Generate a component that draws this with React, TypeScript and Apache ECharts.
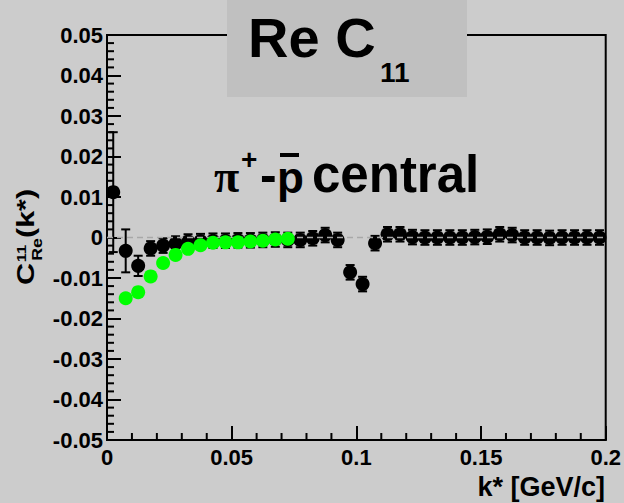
import React, { useEffect, useRef } from "react";
import * as echarts from "echarts";

const kBlack = [
  0.0025, 0.0075, 0.0125, 0.0175, 0.0225, 0.0275, 0.0325, 0.0375, 0.0425, 0.0475,
  0.0525, 0.0575, 0.0625, 0.0675, 0.0725, 0.0775, 0.0825, 0.0875, 0.0925, 0.0975,
  0.1025, 0.1075, 0.1125, 0.1175, 0.1225, 0.1275, 0.1325, 0.1375, 0.1425, 0.1475,
  0.1525, 0.1575, 0.1625, 0.1675, 0.1725, 0.1775, 0.1825, 0.1875, 0.1925, 0.1975,
];
const cBlack = [
  0.0112, -0.0033, -0.007, -0.0027, -0.002, -0.0015, -0.001, -0.0009, -0.0008, -0.0008,
  -0.0007, -0.0007, -0.0006, -0.0005, -0.0006, -0.0006, -0.0002, 0.0006, -0.0006, -0.0086,
  -0.0115, -0.0014, 0.0008, 0.0008, 0.0001, 0.0, 0.0, 0.0, 0.0, 0.0001,
  0.0002, 0.0008, 0.0006, 0.0, 0.0, -0.0001, 0.0, 0.0, 0.0, 0.0,
];
const eBlack = [
  0.0148, 0.0053, 0.0025, 0.0018, 0.0018, 0.0018, 0.0018, 0.0018, 0.0018, 0.0018,
  0.0018, 0.0018, 0.0018, 0.0018, 0.0018, 0.0018, 0.0018, 0.0018, 0.0018, 0.0018,
  0.0018, 0.0018, 0.0018, 0.0018, 0.0018, 0.0018, 0.0018, 0.0018, 0.0018, 0.0018,
  0.0018, 0.0018, 0.0018, 0.0018, 0.0018, 0.0018, 0.0018, 0.0018, 0.0018, 0.0018,
];
const kGreen = [
  0.0075, 0.0125, 0.0175, 0.0225, 0.0275, 0.0325, 0.0375, 0.0425, 0.0475, 0.0525,
  0.0575, 0.0625, 0.0675, 0.0725,
];
const cGreen = [
  -0.015, -0.0135, -0.0096, -0.0063, -0.0043, -0.0028, -0.0019, -0.0013, -0.0012, -0.0012,
  -0.001, -0.0008, -0.0005, -0.0003,
];
const xRange = { min: 0, max: 0.2 };
const xMajor = 0.05;
const xMinor = 0.01;
const yRange = { min: -0.05, max: 0.05 };
const yMajor = 0.01;
const yMinor = 0.002;

const FONT = '"Liberation Sans", Arial, sans-serif';
const SERIF = '"Liberation Serif", "Times New Roman", serif';

function minorTickValues(min: number, max: number, major: number, minor: number) {
  const out: number[] = [];
  const n = Math.round((max - min) / minor);
  const per = Math.round(major / minor);
  for (let i = 1; i < n; i++) {
    if (i % per !== 0) out.push(Math.round((min + i * minor) * 1e6) / 1e6);
  }
  return out;
}

export default function App() {
  const ref = useRef<HTMLDivElement>(null);
  useEffect(() => {
    if (!ref.current) return;
    const chart = echarts.init(ref.current, null, { renderer: "svg" });
    const labelStyle = {
      color: "#000",
      fontSize: 22,
      fontWeight: "bold",
      fontFamily: FONT,
    };
    const majorAxis = {
      axisLine: { show: true, onZero: false, lineStyle: { color: "#000", width: 2 } },
      axisTick: { show: true, inside: true, length: 14, lineStyle: { color: "#000", width: 2 } },
      splitLine: { show: false },
    };
    const tickStyle = { stroke: "#000", lineWidth: 2 };
    const xMinorVals = minorTickValues(xRange.min, xRange.max, xMajor, xMinor);
    const yMinorVals = minorTickValues(yRange.min, yRange.max, yMajor, yMinor);
    const option: any = {
      animation: false,
      backgroundColor: "#cccccc",
      grid: {
        left: 107,
        right: 18,
        top: 35,
        bottom: 63,
        show: true,
        borderColor: "#000",
        borderWidth: 2,
        backgroundColor: "transparent",
      },
      xAxis: {
        type: "value",
        position: "bottom",
        ...xRange,
        interval: xMajor,
        ...majorAxis,
        axisLabel: {
          ...labelStyle,
          margin: 6,
          formatter: (v: number) => String(Math.round(v * 1000) / 1000),
        },
      },
      yAxis: {
        type: "value",
        position: "left",
        ...yRange,
        interval: yMajor,
        ...majorAxis,
        axisLabel: {
          ...labelStyle,
          margin: 4,
          formatter: (v: number) => String(Math.round(v * 100) / 100),
        },
      },
      series: [
        {
          type: "custom",
          silent: true,
          z: 10,
          clip: false,
          data: xMinorVals.map((v) => [v, yRange.min]),
          renderItem: (params: any, api: any) => {
            const p = api.coord([api.value(0), api.value(1)]);
            return { type: "line", shape: { x1: p[0], y1: p[1], x2: p[0], y2: p[1] - 7 }, style: tickStyle };
          },
        },
        {
          type: "custom",
          silent: true,
          z: 10,
          clip: false,
          data: yMinorVals.map((v) => [xRange.min, v]),
          renderItem: (params: any, api: any) => {
            const p = api.coord([api.value(0), api.value(1)]);
            return { type: "line", shape: { x1: p[0], y1: p[1], x2: p[0] + 7, y2: p[1] }, style: tickStyle };
          },
        },
        {
          type: "custom",
          silent: true,
          z: 3,
          data: kBlack.map((k, i) => [k, cBlack[i] - eBlack[i], cBlack[i] + eBlack[i]]),
          encode: { x: 0, y: [1, 2] },
          renderItem: (params: any, api: any) => {
            const x = api.value(0);
            const lo = api.coord([x, api.value(1)]);
            const hi = api.coord([x, api.value(2)]);
            const w = 4.5;
            return {
              type: "group",
              children: [
                { type: "line", shape: { x1: hi[0], y1: hi[1], x2: lo[0], y2: lo[1] }, style: tickStyle },
                { type: "line", shape: { x1: hi[0] - w, y1: hi[1], x2: hi[0] + w, y2: hi[1] }, style: tickStyle },
                { type: "line", shape: { x1: lo[0] - w, y1: lo[1], x2: lo[0] + w, y2: lo[1] }, style: tickStyle },
              ],
            };
          },
        },
        {
          type: "scatter",
          z: 4,
          symbol: "circle",
          symbolSize: 14,
          itemStyle: { color: "#000", opacity: 1 },
          data: kBlack.map((k, i) => [k, cBlack[i]]),
        },
        {
          type: "line",
          z: 5,
          symbol: "none",
          silent: true,
          lineStyle: { color: "#a8a8a8", width: 1.5, type: [6, 4] },
          data: [
            [xRange.min, 0],
            [xRange.max, 0],
          ],
        },
        {
          type: "scatter",
          z: 6,
          symbol: "circle",
          symbolSize: 14,
          itemStyle: { color: "#00ff00", opacity: 1 },
          data: kGreen.map((k, i) => [k, cGreen[i]]),
        },
      ],
      graphic: [
        { type: "rect", z: 100, shape: { x: 227, y: 0, width: 240, height: 97 }, style: { fill: "#c0c0c0" } },
        {
          type: "text",
          z: 101,
          x: 248,
          y: 37,
          style: { text: "Re C", font: `bold 56px ${FONT}`, fill: "#000", textVerticalAlign: "middle" },
        },
        {
          type: "text",
          z: 101,
          x: 380,
          y: 72,
          style: { text: "11", font: `bold 28px ${FONT}`, fill: "#000", textVerticalAlign: "middle" },
        },
        {
          type: "text",
          z: 101,
          x: 214,
          y: 176,
          style: { text: "π", font: `bold 46px ${SERIF}`, fill: "#000", textVerticalAlign: "middle" },
        },
        {
          type: "text",
          z: 101,
          x: 241,
          y: 159,
          style: { text: "+", font: `bold 28px ${FONT}`, fill: "#000", textVerticalAlign: "middle" },
        },
        {
          type: "text",
          z: 101,
          x: 260,
          y: 175,
          style: { text: "-", font: `bold 50px ${FONT}`, fill: "#000", textVerticalAlign: "middle" },
        },
        {
          type: "text",
          z: 101,
          x: 277,
          y: 177,
          style: { text: "p", font: `bold 44px ${FONT}`, fill: "#000", textVerticalAlign: "middle" },
        },
        {
          type: "line",
          z: 101,
          shape: { x1: 280, y1: 155, x2: 299, y2: 155 },
          style: { stroke: "#000", lineWidth: 4 },
        },
        {
          type: "text",
          z: 101,
          x: 312,
          y: 174,
          style: { text: "central", font: `bold 51px ${FONT}`, fill: "#000", textVerticalAlign: "middle" },
        },
        {
          type: "group",
          x: 34,
          y: 285,
          rotation: Math.PI / 2,
          scaleX: 1.27,
          children: [
            { type: "text", x: 0, y: -8.5, style: { text: "C", font: `bold 24px ${FONT}`, fill: "#000", textVerticalAlign: "middle" } },
            { type: "text", x: 18, y: -12, style: { text: "11", font: `bold 13px ${FONT}`, fill: "#000", textVerticalAlign: "middle" } },
            { type: "text", x: 19, y: 3, style: { text: "Re", font: `bold 14px ${FONT}`, fill: "#000", textVerticalAlign: "middle" } },
            { type: "text", x: 37, y: -8.5, style: { text: "(k*)", font: `bold 24px ${FONT}`, fill: "#000", textVerticalAlign: "middle" } },
          ],
        },
        {
          type: "text",
          x: 605,
          y: 487,
          style: {
            text: "k* [GeV/c]",
            font: `bold 27px ${FONT}`,
            fill: "#000",
            textAlign: "right",
            textVerticalAlign: "middle",
          },
        },
      ],
    };
    chart.setOption(option);
    return () => chart.dispose();
  }, []);
  return (
    <div
      ref={ref}
      style={{ position: "fixed", left: 0, top: 0, width: 624, height: 503, background: "#cccccc" }}
    />
  );
}
